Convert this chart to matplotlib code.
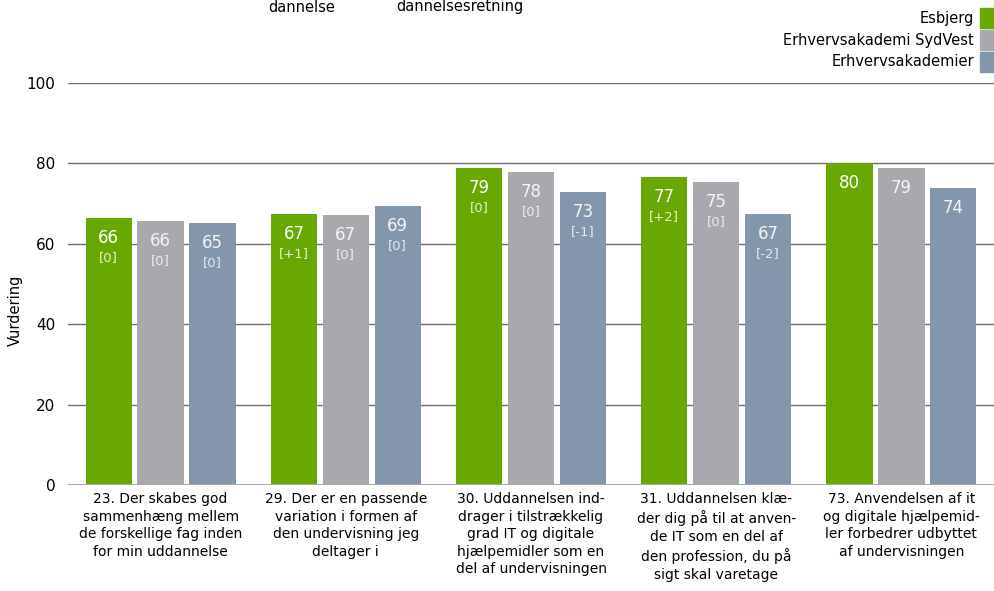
import numpy as np
import matplotlib
matplotlib.use("Agg")
from matplotlib import pyplot as plt
from matplotlib.patches import Rectangle

plt.rcParams['font.family'] = ['DejaVu Sans']

categories = [
    "23. Der skabes god\nsammenhæng mellem\nde forskellige fag inden\nfor min uddannelse",
    "29. Der er en passende\nvariation i formen af\nden undervisning jeg\ndeltager i",
    "30. Uddannelsen ind-\ndrager i tilstrækkelig\ngrad IT og digitale\nhjælpemidler som en\ndel af undervisningen",
    "31. Uddannelsen klæ-\nder dig på til at anven-\nde IT som en del af\nden profession, du på\nsigt skal varetage",
    "73. Anvendelsen af it\nog digitale hjælpemid-\nler forbedrer udbyttet\naf undervisningen",
]
series_names = ["Esbjerg", "Erhvervsakademi SydVest", "Erhvervsakademier"]
esbjerg = [66.4, 67.4, 78.9, 76.6, 80.1]
sydvest = [65.7, 67.2, 77.9, 75.4, 78.9]
akademier = [65.2, 69.4, 72.9, 67.4, 73.9]
esbjerg_diff = ["[0]", "[+1]", "[0]", "[+2]", ""]
sydvest_diff = ["[0]", "[0]", "[0]", "[0]", ""]
akademier_diff = ["[0]", "[0]", "[-1]", "[-2]", ""]

colors = ["#68a800", "#a8a9ad", "#8496ab"]
text_colors = [("white", "#e4efcc"), ("#f4f4f4", "#ebebeb"), ("#f4f4f4", "#e4e8ee")]

fig = plt.figure(figsize=(9.94, 5.91), dpi=100)
ax = fig.add_axes([68 / 994, 1 - 485 / 591, 1 - 68 / 994, (485 - 83) / 591])

x = np.arange(len(categories))
width = 0.25
offsets = [-0.28, 0.0, 0.28]
all_vals = [esbjerg, sydvest, akademier]
all_diffs = [esbjerg_diff, sydvest_diff, akademier_diff]

for i in range(3):
    bars = ax.bar(x + offsets[i], all_vals[i], width, color=colors[i], zorder=3)
    for b, v, d in zip(bars, all_vals[i], all_diffs[i]):
        cx = b.get_x() + b.get_width() / 2
        ax.annotate(f"{v:.0f}", (cx, v), xytext=(0, -14.5), textcoords="offset points",
                    ha="center", va="center", fontsize=12, color=text_colors[i][0], zorder=4)
        if d:
            ax.annotate(d, (cx, v), xytext=(0, -28.5), textcoords="offset points",
                        ha="center", va="center", fontsize=9.5, color=text_colors[i][1], zorder=4)

ax.set_xlim(-0.5, 4.5)
ax.set_ylim(0, 100)
ax.set_yticks([0, 20, 40, 60, 80, 100])
for y in [20, 40, 60, 80, 100]:
    ax.axhline(y, color="#707070", lw=1.0, zorder=1)
ax.axhline(0, color="#a8a8a8", lw=2.2, zorder=5)
for s in ax.spines.values():
    s.set_visible(False)
ax.tick_params(axis="y", length=0, pad=9, labelsize=11)
ax.tick_params(axis="x", length=0, pad=5, labelsize=10)
ax.set_xticks(x)
ax.set_xticklabels(categories, linespacing=1.33)

fig.text(15 / 994, 1 - 310 / 591, "Vurdering", rotation=90, ha="center", va="center", fontsize=10.5)

# cut-off title fragments at the top
fig.text(302 / 994, 1 - 7 / 591, "dannelse", ha="center", va="center", fontsize=10.5)
fig.text(460 / 994, 1 - 7 / 591, "dannelsesretning", ha="center", va="center", fontsize=10.5)

# legend, right aligned with swatches on the edge
for k, name in enumerate(series_names):
    yc = 18 + k * 22
    fig.text(974 / 994, 1 - yc / 591, name, ha="right", va="center", fontsize=10.5)
    fig.add_artist(Rectangle((980 / 994, 1 - (yc + 10) / 591), 16 / 994, 20 / 591,
                             transform=fig.transFigure, color=colors[k]))

fig.savefig("out.png", dpi=100)
